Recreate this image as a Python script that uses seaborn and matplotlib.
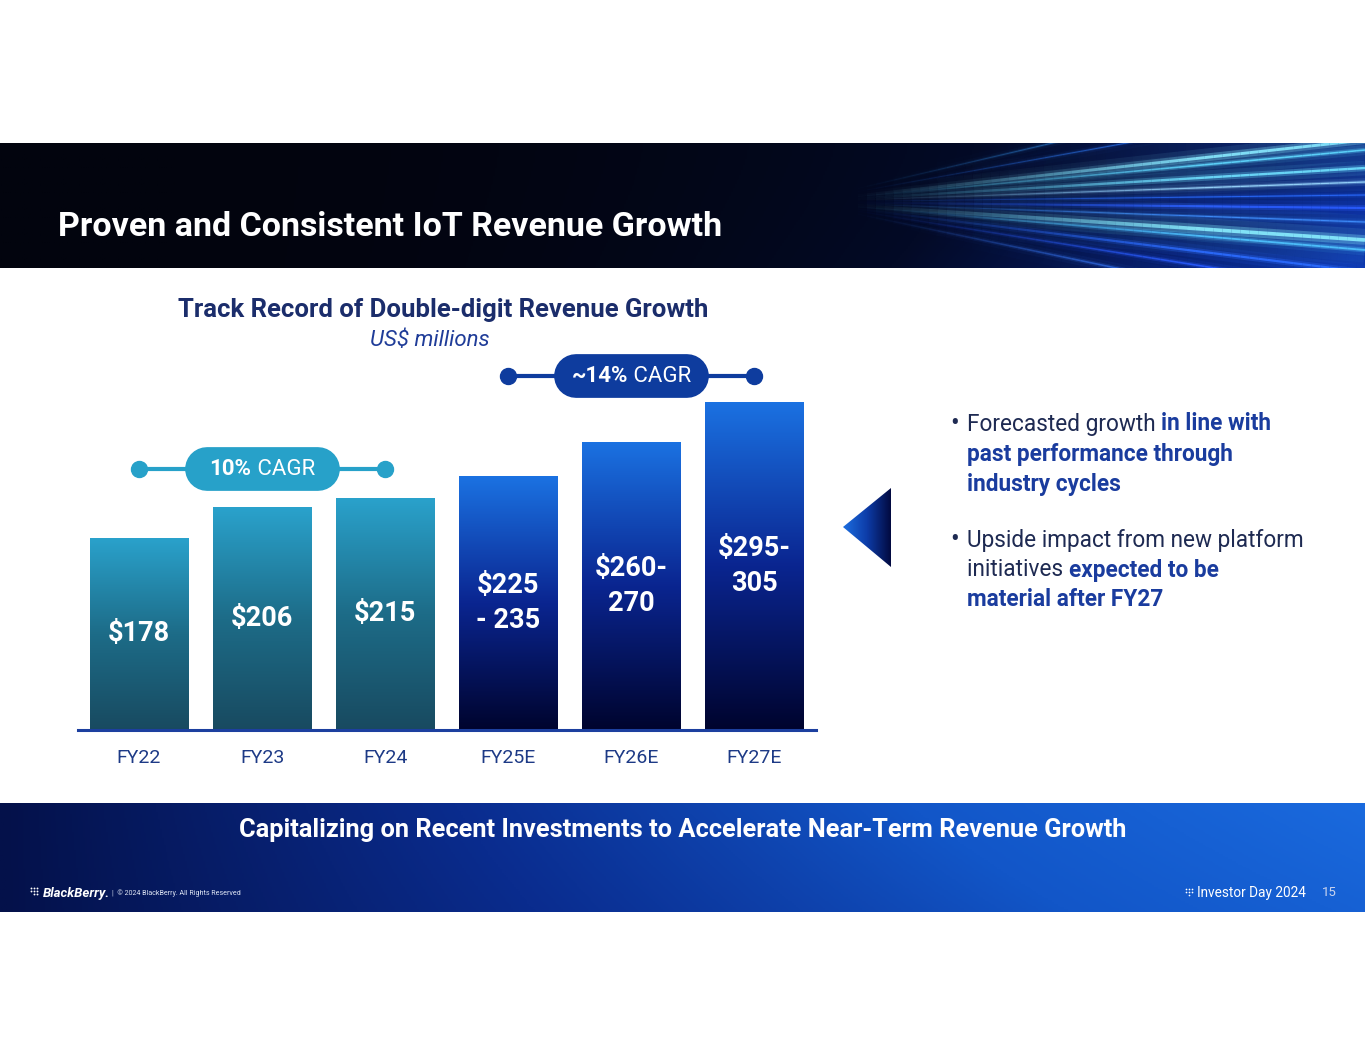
import numpy as np
import pandas as pd
import seaborn as sns
import matplotlib.pyplot as plt
from matplotlib.colors import LinearSegmentedColormap, to_rgb
from matplotlib.collections import LineCollection
from matplotlib.patches import Polygon, Rectangle

# ---- data ----
years = ["FY22", "FY23", "FY24", "FY25E", "FY26E", "FY27E"]
revenue = [178, 206, 215, 235, 267, 304]          # bar heights, US$ millions
bar_labels = ["$178", "$206", "$215", "$225\n- 235", "$260-\n270", "$295-\n305"]
is_forecast = [False, False, False, True, True, True]
cagr_bold = ["10%", "~14%"]
cagr_rest = [" CAGR", " CAGR"]
cagr_from = [0, 3]
cagr_to = [2, 5]

bullet1 = [[("Forecasted growth ", False), ("in line with", True)],
           [("past performance through", True)],
           [("industry cycles", True)]]
bullet2 = [[("Upside impact from new platform", False)],
           [("initiatives ", False), ("expected to be", True)],
           [("material after FY27", True)]]

sns.set_theme(style="white")
plt.rcParams["font.family"] = ["Roboto", "DejaVu Sans"]

W, H = 1365, 1055
fig = plt.figure(figsize=(W / 100, H / 100), dpi=100)
fig.patch.set_facecolor("white")

# full-figure pixel axes for the slide decoration
bg = fig.add_axes([0, 0, 1, 1], zorder=0)
bg.set_xlim(0, W)
bg.set_ylim(H, 0)
bg.axis("off")

# header band
hdr_cmap = LinearSegmentedColormap.from_list("hdr", ["#02040e", "#030a26", "#061c66", "#0b34a8"])
gx = np.linspace(0, 1, 700)[None, :]
gy = np.linspace(0, 1, 120)[:, None]
hdr = np.clip(gx ** 2.6 * 0.8 + 0.25 * gy ** 1.5 * gx ** 3, 0, 1)
bg.imshow(hdr, cmap=hdr_cmap, extent=[0, W, 268, 143], aspect="auto", zorder=0)
hdr_clip = Rectangle((0, 143), W, 125, transform=bg.transData, facecolor="none", edgecolor="none")
bg.add_patch(hdr_clip)

# light streaks on the right of the header, fading in from the left
vx, vy = 800, 202
streaks = [(70, 0.6, "#3aa0ff"), (100, 0.5, "#2f7dff"), (140, 1.6, "#8aeaff"),
           (150, 0.9, "#5fd8ff"), (168, 1.3, "#6fe0ff"), (182, 0.7, "#9ad8ff"),
           (195, 0.5, "#2a6cff"), (208, 1.2, "#2a5cff"), (222, 0.6, "#3d8cff"),
           (240, 2.0, "#8cf0ff"), (250, 1.0, "#4fc4ff"), (272, 1.2, "#2c6cff"),
           (292, 0.9, "#2a5cff"), (320, 0.9, "#3a7cff")]
xs = np.linspace(840, W, 60)
fade = np.clip((xs - 840) / 360, 0, 1) ** 1.4
for ye, s, c in streaks:
    ys = vy + (ye - vy) * (xs - vx) / (W - vx)
    pts = np.column_stack([xs, ys])
    segs = np.stack([pts[:-1], pts[1:]], axis=1)
    rgb = to_rgb(c)
    for lw, a in [(18, 0.04), (8, 0.1), (3.5, 0.3), (1.3, 0.9)]:
        cols = [(rgb[0], rgb[1], rgb[2], a * f) for f in fade[:-1]]
        lc = LineCollection(segs, colors=cols, linewidths=lw * s, capstyle="butt", zorder=1)
        bg.add_collection(lc)
        lc.set_clip_path(hdr_clip)

bg.text(58, 227, "Proven and Consistent IoT Revenue Growth", color="white",
        fontsize=24.5, fontweight="bold", va="center", ha="left", zorder=3)

# footer band
ftr_cmap = LinearSegmentedColormap.from_list("ftr", ["#04114a", "#0a2c8e", "#1256c8", "#1a6ade"])
fx = np.linspace(0, 1, 700)[None, :]
fy = np.linspace(0, 1, 60)[:, None]
ftr = np.clip(fx * 0.85 + 0.15 * (1 - fy) * fx, 0, 1)
bg.imshow(ftr, cmap=ftr_cmap, extent=[0, W, 912, 803], aspect="auto", zorder=0)
bg.text(683, 830, "Capitalizing on Recent Investments to Accelerate Near-Term Revenue Growth",
        color="white", fontsize=18.3, fontweight="bold", ha="center", va="center", zorder=3)

for dx, dy in [(0, 0), (3, 0), (6, 0), (0, 3), (3, 3), (6, 3), (3, 6), (6, 6)]:
    bg.scatter(31 + dx, 888 + dy, s=1.8, color="white", zorder=3, linewidths=0)
bg.text(43, 893, "BlackBerry.", color="white", fontsize=9.5, fontweight="bold",
        fontstyle="italic", va="center", zorder=3)
bg.text(112, 893, "|  © 2024 BlackBerry. All Rights Reserved", color="#dfe6f5",
        fontsize=5.1, va="center", zorder=3)
for dx, dy in [(0, 0), (3, 0), (6, 0), (0, 3), (3, 3), (6, 3), (3, 6)]:
    bg.scatter(1186 + dx, 889 + dy, s=1.5, color="white", zorder=3, linewidths=0)
bg.text(1197, 893, "Investor Day 2024", color="white", fontsize=9.8, va="center", zorder=3)
bg.text(1329, 893, "15", color="#c9d4ee", fontsize=9.5, ha="center", va="center", zorder=3)

# chart titles
bg.text(443, 310, "Track Record of Double-digit Revenue Growth", color="#1b2d6b",
        fontsize=18.5, fontweight="bold", ha="center", va="center")
bg.text(430, 341, "US$ millions", color="#1f3c98", fontsize=16, fontstyle="italic",
        ha="center", va="center")

# pointer triangle
tri = Polygon([[843, 527], [891, 488], [891, 567]], closed=True, facecolor="none",
              edgecolor="none", transform=bg.transData)
bg.add_patch(tri)
tri_cmap = LinearSegmentedColormap.from_list("tri", ["#1c6ee0", "#0d3ca8", "#020a40"])
im = bg.imshow(np.linspace(0, 1, 100)[None, :], cmap=tri_cmap, extent=[843, 891, 567, 488],
               aspect="auto", zorder=1)
im.set_clip_path(tri)

# bullets with mixed regular / bold runs
reg_color, bold_color = "#1e2a52", "#1a3c9e"
bfs = 16.3


def draw_line(x, y, runs):
    prev = None
    for txt, bold in runs:
        kw = dict(color=bold_color if bold else reg_color, fontsize=bfs,
                  fontweight="bold" if bold else "normal", ha="left", zorder=3)
        if prev is None:
            prev = bg.text(x, y, txt, va="center", **kw)
        else:
            prev = bg.annotate(txt, xy=(1, 0), xycoords=prev, va="bottom", **kw)


for lines, y0 in [(bullet1, 424), (bullet2, 540)]:
    bg.text(955, y0, "•", color=reg_color, fontsize=bfs * 1.15, ha="center", va="center")
    for i, runs in enumerate(lines):
        draw_line(967, y0 + 30 * i, runs)

# ---- bar chart ----
PX = 1.0803          # pixels per US$ million
base_px = 730
ymax = 340
ax = fig.add_axes([77.5 / W, (H - base_px) / H, (816 - 77.5) / W, ymax * PX / H], zorder=2)
ax.patch.set_alpha(0)

df = pd.DataFrame({"year": years, "revenue": revenue})
sns.barplot(data=df, x="year", y="revenue", hue="year", palette=["#2290b8"] * 3 + ["#0b2f9a"] * 3,
            width=0.8, legend=False, ax=ax)

hist_cmap = LinearSegmentedColormap.from_list("hist", ["#184a60", "#1d6c88", "#2aa2cc"])
fc_cmap = LinearSegmentedColormap.from_list("fc", ["#00042e", "#0a2590", "#1b72e2"])
bars = sorted(ax.patches, key=lambda p: p.get_x())
for p, fc, lab in zip(bars, is_forecast, bar_labels):
    x0, w, h = p.get_x(), p.get_width(), p.get_height()
    p.set_facecolor("none")
    p.set_edgecolor("none")
    grad = np.linspace(1, 0, 256)[:, None]
    gim = ax.imshow(grad, cmap=fc_cmap if fc else hist_cmap, extent=[x0, x0 + w, 0, h],
                    aspect="auto", zorder=1.5, vmin=0, vmax=1)
    gim.set_clip_path(p)
    ax.text(x0 + w / 2, h / 2, lab, color="white", fontsize=19.5, fontweight="bold",
            ha="center", va="center", linespacing=1.38, zorder=3)

# CAGR brackets
cagr_y = [241.6, 327.7]
cagr_colors = ["#27a1c9", "#0e3c9e"]
fig.canvas.draw()
rend = fig.canvas.get_renderer()
for a, b, y, c, tb, tr in zip(cagr_from, cagr_to, cagr_y, cagr_colors, cagr_bold, cagr_rest):
    ax.plot([a, b], [y, y], color=c, lw=3, marker="o", ms=11.5, clip_on=False, zorder=3)
    mid = (a + b) / 2
    ax.plot([mid - 0.45, mid + 0.45], [y, y], color=c, lw=31.5, solid_capstyle="round",
            clip_on=False, zorder=3)
    t1 = ax.annotate(tb, xy=(mid, y), xytext=(0, 0), textcoords="offset pixels",
                     color="white", fontsize=16, fontweight="bold", ha="left", va="center",
                     zorder=4, annotation_clip=False)
    t2 = ax.annotate(tr, xy=(1, 0), xycoords=t1, color="white", fontsize=16,
                     ha="left", va="bottom", zorder=4, annotation_clip=False)
    fig.canvas.draw()
    wtot = t1.get_window_extent(rend).width + t2.get_window_extent(rend).width
    t1.xyann = (-wtot / 2, 0)

ax.set_xlim(-0.5, 5.5)
ax.set_ylim(0, ymax)
ax.set_xlabel("")
ax.set_ylabel("")
ax.set_yticks([])
sns.despine(ax=ax, left=True)
ax.spines["bottom"].set_color("#1c3f9f")
ax.spines["bottom"].set_linewidth(2.2)
ax.spines["bottom"].set_zorder(4)
ax.tick_params(axis="x", length=0, pad=14, labelsize=14, labelcolor="#1d3a86")

fig.savefig("out.png", dpi=100, facecolor="white")
